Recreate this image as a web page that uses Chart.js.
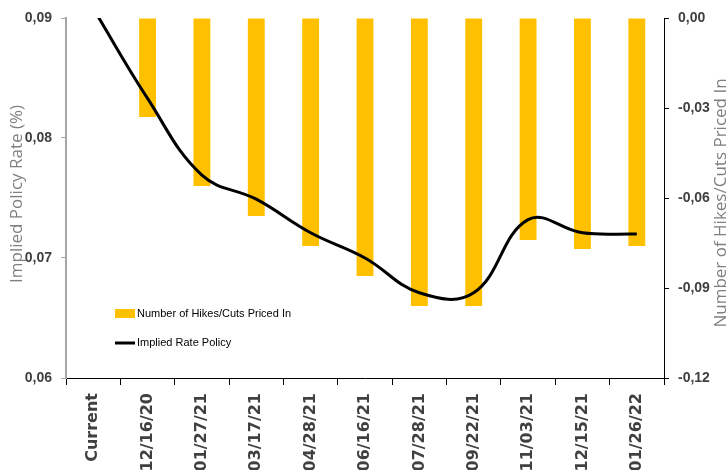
<!DOCTYPE html>
<html>
<head>
<meta charset="utf-8">
<script src="https://cdn.jsdelivr.net/npm/chart.js@4/dist/chart.umd.min.js"></script>
<style>
  html, body { margin: 0; padding: 0; background: #ffffff; overflow: hidden; }
  #wrap { width: 726px; height: 470px; }
</style>
</head>
<body>
<div id="wrap"><canvas id="chart" width="726" height="470"></canvas></div>
<script>
// Meeting dates on the category axis
const categories = ['Current', '12/16/20', '01/27/21', '03/17/21', '04/28/21', '06/16/21',
                    '07/28/21', '09/22/21', '11/03/21', '12/15/21', '01/26/22'];

// Number of hikes/cuts priced in (right axis)
const hikesCutsPricedIn = [0, -0.033, -0.056, -0.066, -0.076, -0.086, -0.096, -0.096, -0.074, -0.077, -0.076];

// Implied policy rate in % (left axis)
const impliedRatePolicy = [0.0908, 0.0833, 0.0769, 0.0749, 0.0721, 0.0700, 0.0671, 0.0671, 0.0732, 0.0721, 0.0720];

// Tick values of both value axes
const leftTicks = [0.06, 0.07, 0.08, 0.09];
const rightTicks = [-0.12, -0.09, -0.06, -0.03, 0];

const SANS = '"Liberation Sans", Arial, sans-serif';
const fmt = v => (Math.abs(v) < 1e-9 ? 0 : v).toFixed(2).replace('.', ',');

// Draws the axis titles and the in-plot legend
const decorations = {
  id: 'decorations',
  afterDraw(chart) {
    const { ctx, chartArea: ca } = chart;
    ctx.save();
    ctx.fillStyle = '#7f7f7f';
    ctx.font = '17px "Open Sans", sans-serif';
    ctx.textAlign = 'center';
    ctx.textBaseline = 'middle';
    [[17, 'Implied Policy Rate (%)', 194], [721, 'Number of Hikes/Cuts Priced In', 203]].forEach(([x, text, y]) => {
      ctx.save();
      ctx.translate(x, y);
      ctx.rotate(-Math.PI / 2);
      ctx.fillText(text, 0, 0);
      ctx.restore();
    });

    // legend
    const bar = chart.data.datasets.find(d => d.type === 'bar');
    const line = chart.data.datasets.find(d => d.type === 'line');
    const lx = ca.left + 49;
    ctx.font = '11px ' + SANS;
    ctx.textAlign = 'left';
    ctx.fillStyle = bar.backgroundColor;
    ctx.fillRect(lx, ca.top + 291, 20, 9);
    ctx.fillStyle = '#000000';
    ctx.fillText(bar.label, lx + 22, ca.top + 296);
    ctx.strokeStyle = line.borderColor;
    ctx.lineWidth = 3;
    ctx.beginPath();
    ctx.moveTo(lx, ca.top + 325);
    ctx.lineTo(lx + 20, ca.top + 325);
    ctx.stroke();
    ctx.fillText(line.label, lx + 22, ca.top + 325);
    ctx.restore();
  }
};

new Chart(document.getElementById('chart'), {
  data: {
    labels: categories,
    datasets: [
      {
        type: 'line',
        label: 'Implied Rate Policy',
        data: impliedRatePolicy,
        yAxisID: 'y',
        borderColor: '#000000',
        borderWidth: 3,
        pointRadius: 0,
        tension: 0.4,
        clip: 0,
        order: 0
      },
      {
        type: 'bar',
        label: 'Number of Hikes/Cuts Priced In',
        data: hikesCutsPricedIn,
        yAxisID: 'y1',
        backgroundColor: '#FFC000',
        barPercentage: 0.31,
        categoryPercentage: 1,
        order: 1
      }
    ]
  },
  options: {
    responsive: false,
    animation: false,
    layout: { padding: { top: 18, left: 0, right: 0, bottom: 0 } },
    plugins: { legend: { display: false }, tooltip: { enabled: false } },
    scales: {
      x: {
        type: 'category',
        offset: true,
        grid: { offset: true, drawOnChartArea: false, drawTicks: true, tickLength: 7, tickColor: '#000000' },
        border: { color: '#000000', width: 1 },
        ticks: {
          autoSkip: false, minRotation: 90, maxRotation: 90, padding: 8,
          color: '#404040', font: { family: '"DejaVu Sans", sans-serif', weight: 'bold', size: 16 }
        },
        afterFit: s => { s.height = 92; }
      },
      y: {
        position: 'left',
        min: 0.06, max: 0.09,
        afterBuildTicks: s => { s.ticks = leftTicks.map(v => ({ value: v })); },
        grid: { drawOnChartArea: false, tickLength: 5, tickColor: '#a6a6a6' },
        border: { color: '#a6a6a6', width: 2 },
        ticks: {
          padding: 9, color: '#404040', callback: v => fmt(v),
          font: { family: SANS, weight: 'bold', size: 14 }
        },
        afterFit: s => { s.width = 66; }
      },
      y1: {
        position: 'right',
        min: -0.12, max: 0,
        afterBuildTicks: s => { s.ticks = rightTicks.map(v => ({ value: v })); },
        grid: { drawOnChartArea: false, tickLength: 5, tickColor: '#000000' },
        border: { color: '#000000', width: 1 },
        ticks: {
          padding: 9, color: '#404040', callback: v => fmt(v),
          font: { family: SANS, weight: 'bold', size: 14 }
        },
        afterFit: s => { s.width = 62; }
      }
    }
  },
  plugins: [decorations]
});
</script>
</body>
</html>
